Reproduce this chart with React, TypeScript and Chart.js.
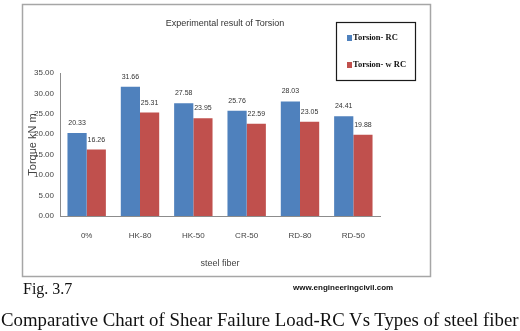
import React, { useEffect, useRef } from "react";
import { Chart, registerables } from "chart.js";

Chart.register(...registerables);

const categories = ["0%", "HK-80", "HK-50", "CR-50", "RD-80", "RD-50"];
const torsionRC = [20.33, 31.66, 27.58, 25.76, 28.03, 24.41];
const torsionWRC = [16.26, 25.31, 23.95, 22.59, 23.05, 19.88];
const seriesNames = ["Torsion- RC", "Torsion- w RC"];
const seriesColors = ["#4F81BD", "#C0504D"];
const yMin = 0;
const yMax = 35;
const yStep = 5;
const chartTitle = "Experimental result of Torsion";
const xTitle = "steel fiber";
const yTitle = "Torque kN m";
const figLabel = "Fig. 3.7";
const siteLabel = "www.engineeringcivil.com";
const caption = "Comparative Chart of Shear Failure Load-RC Vs Types of steel fiber";

const SANS = "'Liberation Sans Narrow', 'Liberation Sans', Arial, sans-serif";
const SERIF = "'Liberation Serif', 'Times New Roman', serif";

const decorPlugin = {
  id: "decor",
  beforeDraw(chart: any) {
    const ctx = chart.ctx;
    ctx.save();
    ctx.fillStyle = "#ffffff";
    ctx.fillRect(0, 0, chart.width, chart.height);
    ctx.strokeStyle = "#a6a6a6";
    ctx.lineWidth = 1.5;
    ctx.strokeRect(22.5, 4.5, 408, 272);
    ctx.restore();
  },
  afterDraw(chart: any) {
    const ctx = chart.ctx;
    ctx.save();
    // title
    ctx.fillStyle = "#333333";
    ctx.font = `9px ${SANS}`;
    ctx.textAlign = "center";
    ctx.textBaseline = "middle";
    ctx.fillText(chartTitle, 225, 24);

    // legend box
    ctx.strokeStyle = "#1a1a1a";
    ctx.lineWidth = 1.2;
    ctx.strokeRect(336.5, 22.5, 79, 58);
    const itemY = [38, 65];
    chart.data.datasets.forEach((ds: any, i: number) => {
      ctx.fillStyle = ds.backgroundColor;
      ctx.fillRect(347, itemY[i] - 3, 5, 6);
      ctx.fillStyle = "#111111";
      ctx.font = `bold 8.5px ${SERIF}`;
      ctx.textAlign = "left";
      ctx.fillText(ds.label, 353, itemY[i]);
    });

    // data labels
    ctx.fillStyle = "#333333";
    ctx.font = `7px ${SANS}`;
    ctx.textAlign = "center";
    chart.data.datasets.forEach((ds: any, i: number) => {
      const meta = chart.getDatasetMeta(i);
      meta.data.forEach((bar: any, j: number) => {
        ctx.fillText(Number(ds.data[j]).toFixed(2), bar.x, bar.y - 10);
      });
    });
    ctx.restore();
  },
};

function TorsionChart() {
  const ref = useRef<HTMLCanvasElement | null>(null);
  useEffect(() => {
    if (!ref.current) return;
    const chart = new Chart(ref.current, {
      type: "bar",
      data: {
        labels: categories,
        datasets: [
          { label: seriesNames[0], data: torsionRC, backgroundColor: seriesColors[0] },
          { label: seriesNames[1], data: torsionWRC, backgroundColor: seriesColors[1] },
        ],
      },
      options: {
        animation: false,
        responsive: false,
        devicePixelRatio: 1,
        layout: { padding: { left: 22, right: 140, top: 73, bottom: 55 } },
        plugins: {
          legend: { display: false },
          title: { display: false },
          tooltip: { enabled: false },
        },
        datasets: { bar: { categoryPercentage: 0.72, barPercentage: 1 } },
        scales: {
          x: {
            grid: { display: false, drawTicks: false },
            border: { color: "#8c8c8c", width: 1 },
            ticks: { color: "#444", font: { family: SANS, size: 8 }, padding: 15 },
            title: {
              display: true,
              text: xTitle,
              color: "#444",
              font: { family: SANS, size: 9 },
              padding: { top: 0, bottom: 7.5 },
            },
            afterFit: (s: any) => {
              s.height = 60;
            },
          },
          y: {
            min: yMin,
            max: yMax,
            grid: { display: false, drawTicks: false },
            border: { color: "#8c8c8c", width: 1 },
            ticks: {
              stepSize: yStep,
              color: "#444",
              font: { family: SANS, size: 8 },
              padding: 6,
              callback: (v: any) => Number(v).toFixed(2),
            },
            title: {
              display: true,
              text: yTitle,
              color: "#444",
              font: { family: SANS, size: 11 },
              padding: { top: 4, bottom: 0 },
            },
            afterFit: (s: any) => {
              s.width = 38;
            },
          },
        },
      },
      plugins: [decorPlugin],
    } as any);
    return () => chart.destroy();
  }, []);
  return <canvas ref={ref} width={520} height={331} style={{ position: "absolute", left: 0, top: 0, width: 520, height: 331 }} />;
}

export default function App() {
  return (
    <div style={{ position: "fixed", left: 0, top: 0, width: 520, height: 331, background: "#fff", overflow: "hidden" }}>
      <TorsionChart />
      <div style={{ position: "absolute", left: 23, top: 279, fontFamily: SERIF, fontSize: 16, lineHeight: "20px", color: "#111", whiteSpace: "nowrap" }}>
        {figLabel}
      </div>
      <div style={{ position: "absolute", left: 293, top: 282, fontFamily: "'Liberation Sans', Arial, sans-serif", fontWeight: "bold", fontSize: 8, lineHeight: "12px", color: "#111", whiteSpace: "nowrap" }}>
        {siteLabel}
      </div>
      <div style={{ position: "absolute", left: 1, top: 308, fontFamily: SERIF, fontSize: 18.8, lineHeight: "24px", color: "#111", whiteSpace: "nowrap" }}>
        {caption}
      </div>
    </div>
  );
}
